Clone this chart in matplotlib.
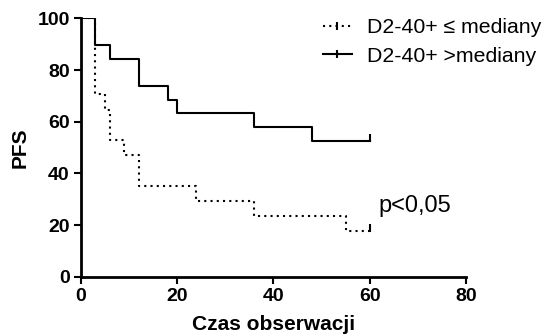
import matplotlib
matplotlib.use("Agg")
import matplotlib.pyplot as plt
from matplotlib.lines import Line2D

plt.rcParams['font.family'] = ['Liberation Sans', 'DejaVu Sans']

# data
high_t = [0, 3, 6, 12, 18, 20, 36, 48, 60]
high_s = [100, 89.5, 84.2, 73.7, 68.4, 63.2, 57.9, 52.6, 52.6]
low_t = [0, 3, 5, 6, 9, 12, 24, 36, 55, 60]
low_s = [100, 70.6, 64.7, 52.9, 47.1, 35.3, 29.4, 23.5, 17.6, 17.6]
labels = ["D2-40+ \u2264 mediany", "D2-40+ >mediany"]
xticks = [0, 20, 40, 60, 80]
yticks = [0, 20, 40, 60, 80, 100]

fig = plt.figure(figsize=(5.42, 3.36), dpi=100)
ax = fig.add_axes([0.1494, 0.176, 0.7104, 0.7695])

dot = (0, (1, 2))
ax.plot(low_t, low_s, drawstyle='steps-post', color='black', lw=1.5, ls=dot)
ax.plot(high_t, high_s, drawstyle='steps-post', color='black', lw=1.5)
ax.plot([low_t[-1]], [low_s[-1] + 1.2], marker='|', color='black', ms=6, mew=1.5)
ax.plot([high_t[-1]], [high_s[-1] + 1.2], marker='|', color='black', ms=6, mew=1.5)

h1 = Line2D([], [], color='black', lw=1.5, ls=dot, marker='|', ms=6, mew=1.5)
h2 = Line2D([], [], color='black', lw=1.5, marker='|', ms=6, mew=1.5)
ax.legend([h1, h2], labels, loc='upper left', bbox_to_anchor=(0.628, 1.0),
          frameon=False, fontsize=15.3, numpoints=1, handlelength=1.36,
          handletextpad=0.7, labelspacing=0.45, borderpad=0, borderaxespad=0)

ax.text(61.9, 25, "p<0,05", fontsize=17, ha='left', va='baseline')

ax.set_xlim(0, 80)
ax.set_ylim(0, 100)
ax.set_xticks(xticks)
ax.set_yticks(yticks)
ax.spines['top'].set_visible(False)
ax.spines['right'].set_visible(False)
for s in ['left', 'bottom']:
    ax.spines[s].set_linewidth(2)
ax.tick_params(direction='out', length=5, width=1.5, labelsize=14, pad=3)
for lab in ax.get_xticklabels() + ax.get_yticklabels():
    lab.set_fontweight('bold')
ax.set_xlabel("Czas obserwacji", fontsize=15, fontweight='bold', labelpad=7)
ax.set_ylabel("PFS", fontsize=15, fontweight='bold', labelpad=6)

fig.savefig("out.png", dpi=100)
